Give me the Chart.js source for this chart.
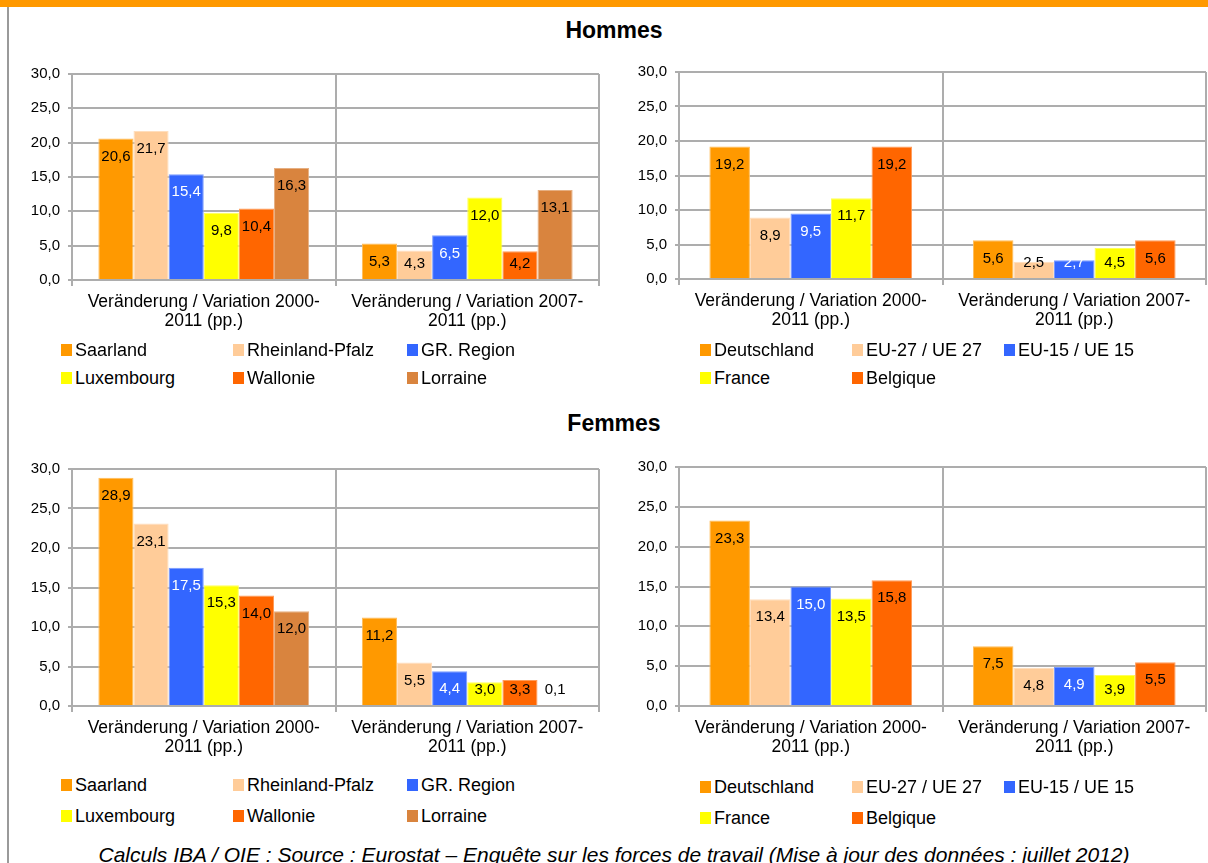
<!DOCTYPE html>
<html lang="fr">
<head>
<meta charset="utf-8">
<title>Veränderung / Variation (pp.)</title>
<script src="https://cdn.jsdelivr.net/npm/chart.js@4.4.1/dist/chart.umd.min.js"></script>
<style>
  html, body { margin: 0; padding: 0; background: #fff; }
  body {
    width: 1208px; height: 863px; position: relative; overflow: hidden;
    font-family: "Liberation Sans", Arial, sans-serif; color: #000;
  }
  #topbar { position: absolute; left: 0; top: 0; width: 1208px; height: 7px; background: #FF9900; }
  #frame { position: absolute; left: 7px; top: 7px; width: 2px; height: 856px; background: #9A9A9A; }
  .title {
    position: absolute; left: 0; width: 1228px; text-align: center;
    font-weight: bold; font-size: 23px; line-height: 26px;
  }
  canvas { position: absolute; }
  .legend-item {
    position: absolute; white-space: nowrap; font-size: 18px;
    height: 20px; line-height: 20px; padding-left: 14px;
  }
  .legend-item span {
    position: absolute; left: 0; top: 4px; width: 11px; height: 12px;
  }
  #footer {
    position: absolute; left: 0; width: 1228px; top: 843px; text-align: center;
    font-style: italic; font-size: 21px; line-height: 24px; color: #000;
  }
</style>
</head>
<body>
<div id="topbar"></div>
<div id="frame"></div>
<div class="title" style="top:17px">Hommes</div>
<div class="title" style="top:410px">Femmes</div>
<canvas id="menRegions"></canvas>
<canvas id="menCountries"></canvas>
<canvas id="womenRegions"></canvas>
<canvas id="womenCountries"></canvas>
<div id="footer">Calculs IBA / OIE : Source : Eurostat – Enquête sur les forces de travail (Mise à jour des données : juillet 2012)</div>

<script>
// ---- Data ----
const periods = [
  ['Veränderung / Variation 2000-', '2011 (pp.)'],
  ['Veränderung / Variation 2007-', '2011 (pp.)']
];
const regionNames = ['Saarland', 'Rheinland-Pfalz', 'GR. Region', 'Luxembourg', 'Wallonie', 'Lorraine'];
const countryNames = ['Deutschland', 'EU-27 / UE 27', 'EU-15 / UE 15', 'France', 'Belgique'];

// Hommes
const menRegions2000 = [20.6, 21.7, 15.4, 9.8, 10.4, 16.3];
const menRegions2007 = [5.3, 4.3, 6.5, 12.0, 4.2, 13.1];
const menCountries2000 = [19.2, 8.9, 9.5, 11.7, 19.2];
const menCountries2007 = [5.6, 2.5, 2.7, 4.5, 5.6];

// Femmes
const womenRegions2000 = [28.9, 23.1, 17.5, 15.3, 14.0, 12.0];
const womenRegions2007 = [11.2, 5.5, 4.4, 3.0, 3.3, 0.1];
const womenCountries2000 = [23.3, 13.4, 15.0, 13.5, 15.8];
const womenCountries2007 = [7.5, 4.8, 4.9, 3.9, 5.5];

// Value axis
const axisMin = 0;
const axisMax = 30;
const axisStep = 5;

// ---- Styles ----
const FONT = '"Liberation Sans", Arial, sans-serif';
const regionColors = ['#FF9900', '#FFCC99', '#3366FF', '#FFFF00', '#FF6600', '#D9843E'];
const countryColors = ['#FF9900', '#FFCC99', '#3366FF', '#FFFF00', '#FF6600'];
const gridColor = '#ADADAD';

const fmt = v => v.toFixed(1).replace('.', ',');

// lighter edge around each bar
function tint(hex, amount) {
  const n = parseInt(hex.slice(1), 16);
  const mix = c => Math.round(c + (255 - c) * amount);
  return `rgb(${mix(n >> 16)}, ${mix((n >> 8) & 255)}, ${mix(n & 255)})`;
}

// text colour of the value printed in a bar
function labelColorFor(hex) {
  return hex === '#3366FF' ? '#FFFFFF' : '#000000';
}

// value printed just inside the top of each bar
const valueLabels = {
  id: 'valueLabels',
  afterDatasetsDraw(chart, args, opts) {
    const { ctx } = chart;
    ctx.save();
    ctx.font = `${opts.size}px ${FONT}`;
    ctx.textAlign = 'center';
    ctx.textBaseline = 'middle';
    chart.data.datasets.forEach((ds, di) => {
      const meta = chart.getDatasetMeta(di);
      meta.data.forEach((bar, i) => {
        const y = Math.min(bar.y + opts.inset, bar.base - opts.floor);
        ctx.fillStyle = ds.valueColor;
        ctx.fillText(fmt(ds.data[i]), bar.x, y);
      });
    });
    ctx.restore();
  }
};

function buildDatasets(names, colors, first, second) {
  return names.map((name, i) => ({
    label: name,
    data: [first[i], second[i]],
    backgroundColor: colors[i],
    borderColor: tint(colors[i], 0.35),
    borderWidth: { top: 1, left: 1, right: 1, bottom: 0 },
    borderSkipped: 'start',
    valueColor: labelColorFor(colors[i])
  }));
}

// box: canvas rectangle on the page; plot: wanted chart area on the page
function makeChart(id, box, plot, datasets) {
  const canvas = document.getElementById(id);
  canvas.width = box.width;
  canvas.height = box.height;
  canvas.style.left = box.left + 'px';
  canvas.style.top = box.top + 'px';
  canvas.style.width = box.width + 'px';
  canvas.style.height = box.height + 'px';

  const n = datasets.length;
  return new Chart(canvas, {
    type: 'bar',
    data: { labels: periods, datasets },
    options: {
      responsive: false,
      animation: false,
      devicePixelRatio: 1,
      layout: {
        padding: {
          top: plot.top - box.top,
          right: box.left + box.width - plot.right,
          left: 0,
          bottom: 0
        }
      },
      datasets: { bar: { categoryPercentage: n / (n + 1.5), barPercentage: 1 } },
      plugins: {
        legend: { display: false },
        tooltip: { enabled: false },
        valueLabels: { size: 15, inset: 18, floor: 15 }
      },
      scales: {
        x: {
          grid: { color: gridColor, lineWidth: 2, tickLength: 6, offset: true },
          border: { color: gridColor, width: 2 },
          ticks: {
            color: '#000', padding: 6, maxRotation: 0, autoSkip: false,
            font: { family: FONT, size: 17.5, lineHeight: 1.12 }
          },
          afterFit(scale) { scale.height = box.top + box.height - plot.bottom; }
        },
        y: {
          min: axisMin, max: axisMax,
          grid: { color: gridColor, lineWidth: 2, tickLength: 4 },
          border: { color: gridColor, width: 2 },
          ticks: {
            stepSize: axisStep, color: '#000', padding: 8,
            font: { family: FONT, size: 15 },
            callback: v => fmt(v)
          },
          afterFit(scale) { scale.width = plot.left - box.left; }
        }
      }
    },
    plugins: [valueLabels]
  });
}

// legend laid out in columns, built from the chart's own datasets
function makeLegend(chart, left, columns, rows) {
  chart.data.datasets.forEach((ds, i) => {
    const item = document.createElement('div');
    item.className = 'legend-item';
    item.style.left = (left + columns[i % columns.length]) + 'px';
    item.style.top = (rows[Math.floor(i / columns.length)] - 10) + 'px';
    const swatch = document.createElement('span');
    swatch.style.background = ds.backgroundColor;
    item.appendChild(swatch);
    item.appendChild(document.createTextNode(ds.label));
    document.body.appendChild(item);
  });
}

const regionColumns = [0, 172, 346];
const countryColumns = [0, 152, 304];

const c1 = makeChart('menRegions',
  { left: 0, top: 55, width: 610, height: 290 },
  { left: 72, top: 74, right: 599, bottom: 280 },
  buildDatasets(regionNames, regionColors, menRegions2000, menRegions2007));
makeLegend(c1, 61, regionColumns, [350, 378]);

const c2 = makeChart('menCountries',
  { left: 606, top: 55, width: 602, height: 290 },
  { left: 679, top: 71, right: 1206, bottom: 279 },
  buildDatasets(countryNames, countryColors, menCountries2000, menCountries2007));
makeLegend(c2, 700, countryColumns, [350, 378]);

const c3 = makeChart('womenRegions',
  { left: 0, top: 450, width: 610, height: 320 },
  { left: 72, top: 469, right: 599, bottom: 706 },
  buildDatasets(regionNames, regionColors, womenRegions2000, womenRegions2007));
makeLegend(c3, 61, regionColumns, [785, 816]);

const c4 = makeChart('womenCountries',
  { left: 606, top: 450, width: 602, height: 320 },
  { left: 679, top: 467, right: 1206, bottom: 706 },
  buildDatasets(countryNames, countryColors, womenCountries2000, womenCountries2007));
makeLegend(c4, 700, countryColumns, [787, 818]);
</script>
</body>
</html>
